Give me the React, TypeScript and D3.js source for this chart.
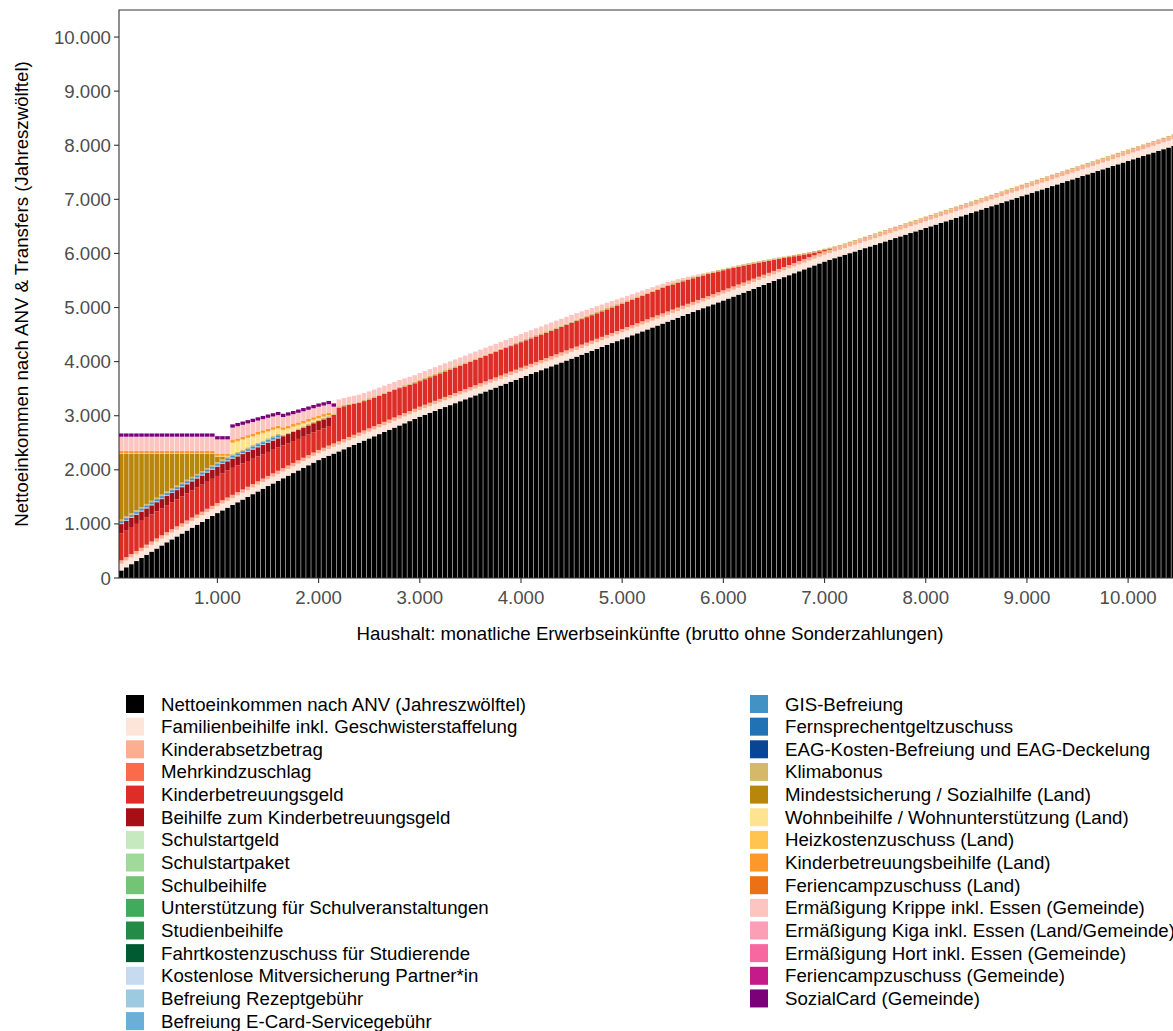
import * as d3 from "d3";

const W = 1173;
const H = 1031;
const STEP = 50;
// Haushaltseinkommen brutto je Balken (50 € Schritte)
const INCOME = d3.range(STEP, 10500 + STEP / 2, STEP);

const X_TICKS = [1000, 2000, 3000, 4000, 5000, 6000, 7000, 8000, 9000, 10000];
const Y_TICKS = [0, 1000, 2000, 3000, 4000, 5000, 6000, 7000, 8000, 9000, 10000];

const LABELS = [
  "Nettoeinkommen nach ANV (Jahreszwölftel)",
  "Familienbeihilfe inkl. Geschwisterstaffelung",
  "Kinderabsetzbetrag",
  "Mehrkindzuschlag",
  "Kinderbetreuungsgeld",
  "Beihilfe zum Kinderbetreuungsgeld",
  "Schulstartgeld",
  "Schulstartpaket",
  "Schulbeihilfe",
  "Unterstützung für Schulveranstaltungen",
  "Studienbeihilfe",
  "Fahrtkostenzuschuss für Studierende",
  "Kostenlose Mitversicherung Partner*in",
  "Befreiung Rezeptgebühr",
  "Befreiung E-Card-Servicegebühr",
  "GIS-Befreiung",
  "Fernsprechentgeltzuschuss",
  "EAG-Kosten-Befreiung und EAG-Deckelung",
  "Klimabonus",
  "Mindestsicherung / Sozialhilfe (Land)",
  "Wohnbeihilfe / Wohnunterstützung (Land)",
  "Heizkostenzuschuss (Land)",
  "Kinderbetreuungsbeihilfe (Land)",
  "Feriencampzuschuss (Land)",
  "Ermäßigung Krippe inkl. Essen (Gemeinde)",
  "Ermäßigung Kiga inkl. Essen (Land/Gemeinde)",
  "Ermäßigung Hort inkl. Essen (Gemeinde)",
  "Feriencampzuschuss (Gemeinde)",
  "SozialCard (Gemeinde)",
];

const COLORS = [
  "#000000", "#FEE5D9", "#FCAE91", "#FB6A4A", "#DE2D26", "#A50F15",
  "#C7E9C0", "#A1D99B", "#74C476", "#41AB5D", "#238B45", "#005A32",
  "#C6DBEF", "#9ECAE1", "#6BAED6", "#4292C6", "#2171B5", "#084594",
  "#D4B96A", "#B8860B", "#FEE391", "#FEC44F", "#FE9929", "#EC7014",
  "#FCC5C0", "#FA9FB5", "#F768A1", "#C51B8A", "#7A0177",
];

// Werte je Balken: Zahl = ein Balken, [n, v] = n Balken mit Wert v, Rest = 0
type Item = number | [number, number];

const NETTO: Item[] = [
  140, 198, 256, 313, 371, 429, 487, 544, 602, 660,
  714, 768, 822, 876, 930, 984, 1038, 1092, 1146, 1200,
  1250, 1300, 1350, 1400, 1450, 1500, 1550, 1600, 1650, 1700,
  1748, 1796, 1844, 1892, 1940, 1988, 2036, 2084, 2132, 2180,
  2220, 2260, 2300, 2340, 2380, 2420, 2460, 2500, 2540, 2580,
  2620, 2660, 2700, 2740, 2780, 2820, 2860, 2900, 2940, 2980,
  3016, 3052, 3088, 3124, 3160, 3196, 3232, 3268, 3304, 3340,
  3376, 3412, 3448, 3484, 3520, 3556, 3592, 3628, 3664, 3700,
  3736, 3771, 3807, 3842, 3878, 3913, 3949, 3984, 4020, 4055,
  4091, 4127, 4163, 4199, 4235, 4271, 4307, 4343, 4379, 4415,
  4451, 4487, 4523, 4559, 4595, 4631, 4667, 4703, 4739, 4775,
  4811, 4846, 4882, 4917, 4953, 4988, 5024, 5059, 5095, 5130,
  5166, 5202, 5238, 5274, 5310, 5346, 5382, 5418, 5454, 5490,
  5526, 5562, 5598, 5634, 5670, 5706, 5742, 5778, 5814, 5850,
  5881, 5912, 5943, 5974, 6005, 6036, 6067, 6098, 6129, 6160,
  6191, 6222, 6253, 6284, 6315, 6346, 6377, 6408, 6439, 6470,
  6501, 6532, 6563, 6594, 6625, 6656, 6687, 6718, 6749, 6780,
  6811, 6842, 6873, 6904, 6935, 6966, 6997, 7028, 7059, 7090,
  7121, 7152, 7183, 7214, 7245, 7276, 7307, 7338, 7369, 7400,
  7431, 7462, 7493, 7524, 7555, 7586, 7617, 7648, 7679, 7710,
  7741, 7772, 7803, 7834, 7865, 7896, 7927, 7958, 7989, 8020,
];
const FAMILIENBEIHILFE: Item[] = [[210, 125]];
const KINDERABSETZBETRAG: Item[] = [[210, 62]];
const KBG: Item[] = [
  [22, 500],
  500, 492, 484, 476, 468, 460, 452, 444, 436, 428,
  420, 412, 404, 396, 388, 380, 372, 364, 356, 350,
  530, 623, 608, 593, 573, 553, 543, 533, 528, 523,
  518, 513, 508, 503, 493, 483, 473,
  [50, 472],
  465, 460, 452, 445, 437, 428, 418, 408, 397, 385,
  372, 358, 344, 329, 313, 297, 280, 262, 244, 225,
  206, 187, 167, 147, 127, 107, 88, 70, 53, 38,
  25, 14, 6, 2,
];
const BEIHILFE_KBG: Item[] = [[42, 170]];
const REZEPTGEBUEHR: Item[] = [[32, 12]];
const ECARD: Item[] = [[32, 6]];
const GIS: Item[] = [[32, 30]];
const FERNSPRECH: Item[] = [[32, 10]];
const KLIMABONUS: Item[] = [[210, 25]];
const MINDESTSICHERUNG: Item[] = [
  1212, 1154, 1096, 1039, 981, 923, 865, 808, 750, 692,
  638, 584, 530, 476, 422, 368, 314, 260, 206, 102, 52, 2,
];
const WOHNBEIHILFE: Item[] = [
  [22, 0],
  200, 188, 176, 164, 152, 140, 128, 116, 104, 92,
  80, 70, 60, 50, 42, 34, 26, 18, 12, 6,
];
const HEIZKOSTEN: Item[] = [[42, 15]];
const KB_BEIHILFE: Item[] = [[42, 45]];
const KRIPPE: Item[] = [
  [22, 260],
  230, 226, 222, 218, 214, 210, 206, 202, 198, 194,
  190, 186, 182, 178, 174, 170, 166, 162, 158, 155,
  [48, 125],
  121, 117, 113, 109, 105, 101, 97, 93, 89, 85,
  81, 77, 73, 69, 65, 61, 57, 53, 49, 45,
  40, 35, 30, 25, 20, 15, 10, 5,
];
const SOZIALCARD: Item[] = [[43, 60]];

const VALUES: Item[][] = [
  NETTO, FAMILIENBEIHILFE, KINDERABSETZBETRAG, [], KBG, BEIHILFE_KBG,
  [], [], [], [], [], [],
  [], REZEPTGEBUEHR, ECARD, GIS, FERNSPRECH, [],
  KLIMABONUS, MINDESTSICHERUNG, WOHNBEIHILFE, HEIZKOSTEN, KB_BEIHILFE, [],
  KRIPPE, [], [], [], SOZIALCARD,
];

function decode(items: Item[], n: number): number[] {
  const out: number[] = [];
  items.forEach((it) => {
    if (Array.isArray(it)) for (let k = 0; k < it[0]; k++) out.push(it[1]);
    else out.push(it);
  });
  while (out.length < n) out.push(0);
  return out.slice(0, n);
}

const FONT = "'Liberation Sans', Arial, Helvetica, sans-serif";
const FS = 18.67;
const fmt = d3.formatLocale({ decimal: ",", thousands: ".", grouping: [3], currency: ["", " €"] }).format(",d");

export default function App() {
  const margin = { left: 119, top: 10, right: 1181, bottom: 578 };
  const x = d3.scaleLinear().domain([27.5, 10522.5]).range([margin.left, margin.right]);
  const y = d3.scaleLinear().domain([0, 10500]).range([margin.bottom, margin.top]);
  const bw = x(STEP * 0.9) - x(0);

  const keys = LABELS.map((_, i) => String(i));
  const cols = VALUES.map((v) => decode(v, INCOME.length));
  const rows = INCOME.map((inc, j) => {
    const r: Record<string, number> = { income: inc };
    keys.forEach((k, i) => (r[k] = cols[i][j]));
    return r;
  });
  const stacked = d3.stack<Record<string, number>>().keys(keys)(rows);

  const legendRows = 15;
  const rowH = 22.65;

  return (
    <div style={{ position: "absolute", left: 0, top: 0 }}>
      <svg width={W} height={H} style={{ display: "block", background: "#fff" }} fontFamily={FONT}>
        <defs>
          <clipPath id="panel">
            <rect x={margin.left} y={margin.top} width={margin.right - margin.left} height={margin.bottom - margin.top} />
          </clipPath>
        </defs>
        <g clipPath="url(#panel)">
          {stacked.map((layer, i) => (
            <g key={i} fill={COLORS[i]}>
              {layer.map((d, j) =>
                d[1] - d[0] > 0 ? (
                  <rect key={j} x={x(INCOME[j]) - bw / 2} width={bw} y={y(d[1])} height={y(d[0]) - y(d[1])} />
                ) : null
              )}
            </g>
          ))}
        </g>
        {/* Rahmen */}
        <path
          d={`M${margin.right},${margin.top}H${margin.left}V${margin.bottom}H${margin.right}`}
          fill="none"
          stroke="#333"
          strokeWidth={1.1}
        />
        {Y_TICKS.map((t) => (
          <g key={t} transform={`translate(0,${y(t)})`}>
            <line x1={margin.left - 5} x2={margin.left} stroke="#333" strokeWidth={1.1} />
            <text x={margin.left - 8} dy="0.35em" textAnchor="end" fontSize={FS} fill="#4D4D4D">
              {fmt(t)}
            </text>
          </g>
        ))}
        {X_TICKS.map((t) => (
          <g key={t} transform={`translate(${x(t)},0)`}>
            <line y1={margin.bottom} y2={margin.bottom + 5} stroke="#333" strokeWidth={1.1} />
            <text y={margin.bottom + 26} textAnchor="middle" fontSize={FS} fill="#4D4D4D">
              {fmt(t)}
            </text>
          </g>
        ))}
        <text x={650} y={640} textAnchor="middle" fontSize={FS} fill="#000">
          Haushalt: monatliche Erwerbseinkünfte (brutto ohne Sonderzahlungen)
        </text>
        <text transform={`translate(28,${(margin.top + margin.bottom) / 2}) rotate(-90)`} textAnchor="middle" fontSize={FS} fill="#000">
          Nettoeinkommen nach ANV &amp; Transfers (Jahreszwölftel)
        </text>
        {/* Legende */}
        {LABELS.map((lab, i) => {
          const col = i < legendRows ? 0 : 1;
          const row = i < legendRows ? i : i - legendRows;
          const kx = col === 0 ? 126 : 750;
          const ky = 695 + row * rowH;
          return (
            <g key={lab}>
              <rect x={kx} y={ky} width={18} height={18} fill={COLORS[i]} />
              <text x={kx + 35} y={ky + 9} dy="0.35em" fontSize={FS} fill="#000">
                {lab}
              </text>
            </g>
          );
        })}
      </svg>
    </div>
  );
}
